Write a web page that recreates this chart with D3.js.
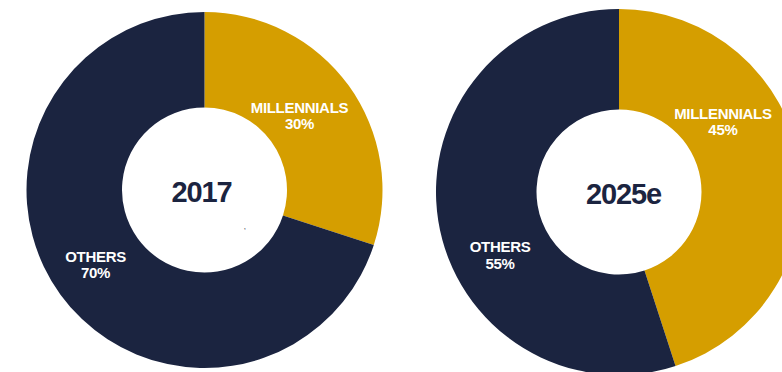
<!DOCTYPE html>
<html>
<head>
<meta charset="utf-8">
<script src="https://cdn.jsdelivr.net/npm/d3@7/dist/d3.min.js"></script>
<style>
  html, body { margin: 0; padding: 0; background: #ffffff; }
  svg { display: block; }
  text { font-family: "Liberation Sans", Arial, Helvetica, sans-serif; font-weight: bold; }
</style>
</head>
<body>
<svg id="chart" width="782" height="372"></svg>
<script>
// Generational share of spending, two snapshots
const years = ["2017", "2025e"];
const categories = ["MILLENNIALS", "OTHERS"];
const share2017 = [30, 70];
const share2025 = [45, 55];
const seriesValues = [share2017, share2025];

const colors = { MILLENNIALS: "#D59E00", OTHERS: "#1B2440" };

// Layout of each donut: centre, radii and label anchors (polar: degrees from 12 o'clock, radius)
const layout = [
  { cx: 204.5, cy: 190, outer: 178, inner: 82.5,
    labels: [{ angle: 51.7, r: 121 }, { angle: 235.8, r: 131.7 }],
    yearDx: -3 },
  { cx: 619, cy: 192, outer: 183, inner: 82.5,
    labels: [{ angle: 55.9, r: 125.5 }, { angle: 242.1, r: 134.6 }],
    yearDx: 4.5 }
];

const svg = d3.select("#chart");

const pie = d3.pie().sort(null).value(d => d.value);

years.forEach((year, i) => {
  const L = layout[i];
  const data = categories.map((c, k) => ({ category: c, value: seriesValues[i][k] }));
  const arcs = pie(data);
  const arc = d3.arc().innerRadius(L.inner).outerRadius(L.outer);

  const g = svg.append("g").attr("transform", `translate(${L.cx},${L.cy})`);

  g.selectAll("path")
    .data(arcs)
    .join("path")
    .attr("d", arc)
    .attr("fill", d => colors[d.data.category]);

  // slice labels: category name over its percentage
  arcs.forEach((d, k) => {
    const p = L.labels[k];
    const [x, y] = d3.pointRadial(p.angle * Math.PI / 180, p.r);
    const t = g.append("text")
      .attr("text-anchor", "middle")
      .attr("fill", "#ffffff")
      .attr("font-size", 15)
      .attr("letter-spacing", -0.3);
    t.append("tspan").attr("x", x).attr("y", y - 2.5).text(d.data.category);
    t.append("tspan").attr("x", x).attr("y", y + 13.8).text(d.data.value + "%");
  });

  // year in the donut hole
  g.append("text")
    .attr("x", L.yearDx)
    .attr("y", 12)
    .attr("text-anchor", "middle")
    .attr("fill", "#1B2440")
    .attr("font-size", 29)
    .attr("letter-spacing", -1.1)
    .text(year);
});

// small stray comma inside the first donut hole
svg.append("text")
  .attr("x", 244)
  .attr("y", 229)
  .attr("fill", "#1B2440")
  .attr("font-size", 6)
  .text(",");
</script>
</body>
</html>
